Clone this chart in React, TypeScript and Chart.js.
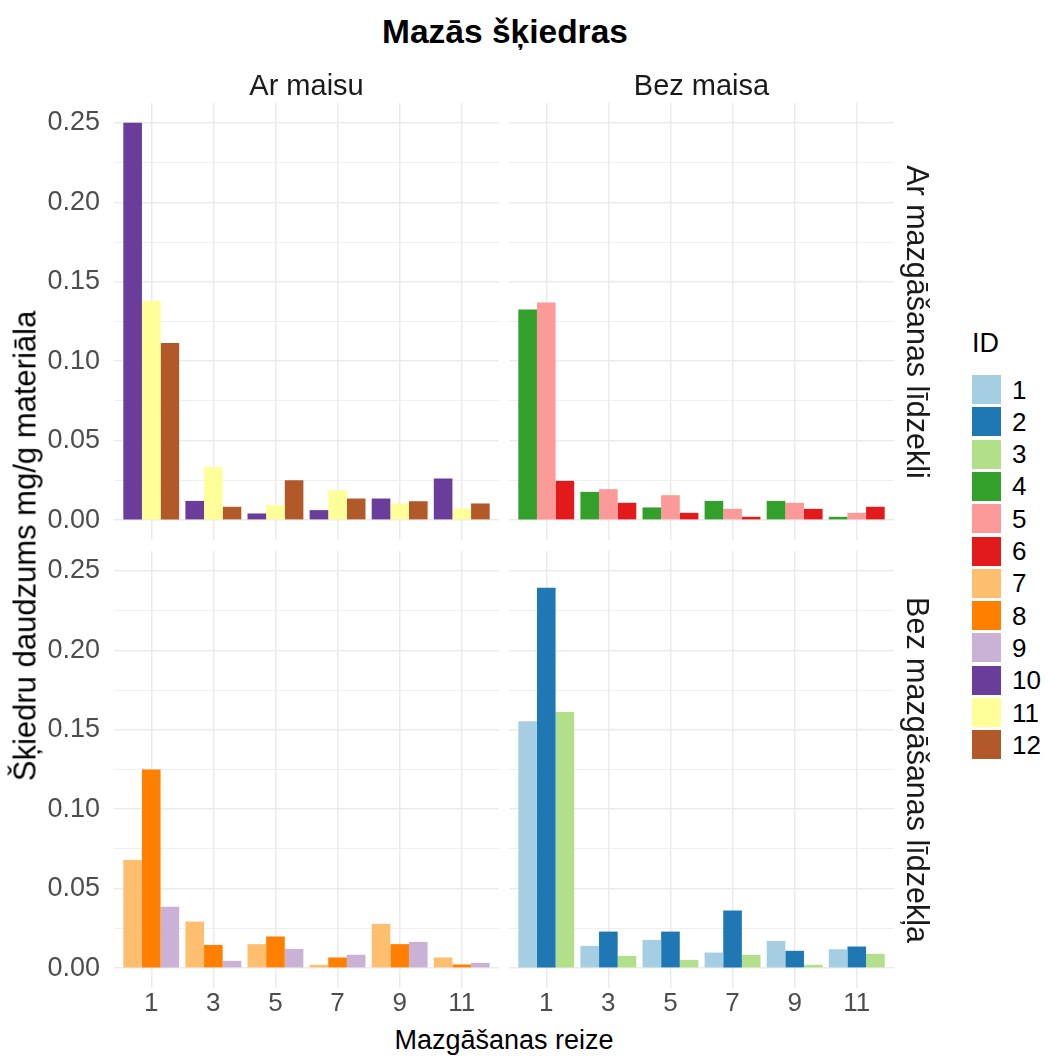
import React, { useEffect, useRef } from 'react';
import { Chart, registerables } from 'chart.js';

Chart.register(...registerables);

// ---------- data ----------
const CATEGORIES = ['1', '3', '5', '7', '9', '11'];
const Y_TICKS = [0, 0.025, 0.05, 0.075, 0.1, 0.125, 0.15, 0.175, 0.2, 0.225, 0.25];
const ID_LABELS = ['1', '2', '3', '4', '5', '6', '7', '8', '9', '10', '11', '12'];
const ID_COLORS = ['#A6CEE3', '#1F78B4', '#B2DF8A', '#33A02C', '#FB9A99', '#E31A1C', '#FDBF6F', '#FF7F00', '#CAB2D6', '#6A3D9A', '#FFFF99', '#B15928'];

const COL_LABELS = ['Ar maisu', 'Bez maisa'];
const ROW_LABELS = ['Ar mazgāšanas līdzekli', 'Bez mazgāšanas līdzekļa'];

// Ar maisu / Ar mazgāšanas līdzekli
const id10 = [0.25, 0.0121, 0.0042, 0.0063, 0.0136, 0.0262];
const id11 = [0.138, 0.0335, 0.0094, 0.0188, 0.0105, 0.0073];
const id12 = [0.1114, 0.0084, 0.0251, 0.0136, 0.0119, 0.0105];
// Bez maisa / Ar mazgāšanas līdzekli
const id4 = [0.1325, 0.0178, 0.008, 0.0121, 0.0121, 0.0021];
const id5 = [0.137, 0.0195, 0.0157, 0.0071, 0.0109, 0.0046];
const id6 = [0.0247, 0.0109, 0.0046, 0.0021, 0.0071, 0.0084];
// Ar maisu / Bez mazgāšanas līdzekļa
const id7 = [0.068, 0.0293, 0.0151, 0.0021, 0.0278, 0.0067];
const id8 = [0.125, 0.0146, 0.0199, 0.0067, 0.0151, 0.0023];
const id9 = [0.0387, 0.0046, 0.0121, 0.0084, 0.0165, 0.0033];
// Bez maisa / Bez mazgāšanas līdzekļa
const id1 = [0.1553, 0.014, 0.0178, 0.0098, 0.0171, 0.0119];
const id2 = [0.2393, 0.023, 0.023, 0.0362, 0.0109, 0.0136];
const id3 = [0.1612, 0.0077, 0.0052, 0.0084, 0.0021, 0.009];

const FONT = "'Liberation Sans', Arial, Helvetica, sans-serif";

type PanelProps = {
  areaLeft: number;
  areaTop: number;
  areaW: number;
  areaH: number;
  showY: boolean;
  showX: boolean;
  ids: number[];
  values: number[][];
};

function Panel(p: PanelProps) {
  const ref = useRef<HTMLCanvasElement>(null);
  const yAxisW = p.showY ? 75 : 0;
  const padL = p.showY ? 0 : 10;
  const padT = 34;
  const padR = 8;
  const xAxisH = p.showX ? 36 : 0;
  const padB = p.showX ? 0 : 34;
  const cw = padL + yAxisW + p.areaW + padR;
  const ch = padT + p.areaH + xAxisH + padB;
  const left = p.areaLeft - yAxisW - padL;
  const top = p.areaTop - padT;

  useEffect(() => {
    if (!ref.current) return;
    const chart = new Chart(ref.current, {
      type: 'bar',
      data: {
        datasets: p.ids.map((id, k) => ({
          label: ID_LABELS[id],
          data: p.values[k].map((v, i) => ({ x: i + 1, y: v })),
          backgroundColor: ID_COLORS[id],
          borderWidth: 0,
          barPercentage: 1,
          categoryPercentage: 0.9,
        })),
      },
      options: {
        animation: false,
        responsive: false,
        devicePixelRatio: 1,
        layout: { padding: { left: padL, top: padT, right: padR, bottom: padB } },
        plugins: { legend: { display: false }, tooltip: { enabled: false }, title: { display: false } },
        scales: {
          x: {
            type: 'linear',
            min: 0.4,
            max: 6.6,
            bounds: 'data',
            offset: false,
            grid: { offset: false, color: '#EBEBEB', lineWidth: 1.5, drawTicks: false },
            border: { display: false },
            afterBuildTicks: (axis: any) => {
              axis.ticks = CATEGORIES.map((_, i) => ({ value: i + 1 }));
            },
            afterFit: (axis: any) => {
              axis.height = xAxisH;
            },
            ticks: {
              display: p.showX,
              autoSkip: false,
              maxRotation: 0,
              padding: 0,
              color: '#4D4D4D',
              font: { family: FONT, size: 26 },
              callback: (v: any) => CATEGORIES[Math.round(Number(v)) - 1] ?? '',
            },
          },
          y: {
            type: 'linear',
            min: -0.0125,
            max: 0.2625,
            bounds: 'data',
            grid: {
              color: '#EBEBEB',
              lineWidth: (ctx: any) => (ctx.index % 2 === 0 ? 1.5 : 0.8),
              drawTicks: false,
            },
            border: { display: false },
            afterBuildTicks: (axis: any) => {
              axis.ticks = Y_TICKS.map((v) => ({ value: v }));
            },
            afterFit: (axis: any) => {
              axis.width = yAxisW;
            },
            ticks: {
              display: p.showY,
              autoSkip: false,
              padding: 14,
              color: '#4D4D4D',
              font: { family: FONT, size: 27 },
              callback: (v: any, i: number) => (i % 2 === 0 ? Number(v).toFixed(2) : ''),
            },
          },
        },
      } as any,
    });
    return () => chart.destroy();
  }, []);

  return (
    <canvas
      ref={ref}
      width={cw}
      height={ch}
      style={{ position: 'absolute', left, top, width: cw, height: ch }}
    />
  );
}

function Txt(props: { x: number; y: number; size: number; rot?: number; bold?: boolean; color?: string; children: React.ReactNode }) {
  return (
    <div
      style={{
        position: 'absolute',
        left: props.x,
        top: props.y,
        transform: `translate(-50%, -50%) rotate(${props.rot ?? 0}deg)`,
        fontFamily: FONT,
        fontSize: props.size,
        fontWeight: props.bold ? 'bold' : 'normal',
        color: props.color ?? '#000',
        whiteSpace: 'nowrap',
        lineHeight: 1,
      }}
    >
      {props.children}
    </div>
  );
}

export default function App() {
  const L1 = 114, L2 = 509, T1 = 103, T2 = 551, W = 385, H = 437;
  return (
    <div style={{ position: 'absolute', left: 0, top: 0, width: 1053, height: 1059, background: '#fff', overflow: 'hidden' }}>
      <Panel areaLeft={L1} areaTop={T1} areaW={W} areaH={H} showY showX={false} ids={[9, 10, 11]} values={[id10, id11, id12]} />
      <Panel areaLeft={L2} areaTop={T1} areaW={W} areaH={H} showY={false} showX={false} ids={[3, 4, 5]} values={[id4, id5, id6]} />
      <Panel areaLeft={L1} areaTop={T2} areaW={W} areaH={H} showY showX ids={[6, 7, 8]} values={[id7, id8, id9]} />
      <Panel areaLeft={L2} areaTop={T2} areaW={W} areaH={H} showY={false} showX ids={[0, 1, 2]} values={[id1, id2, id3]} />

      <Txt x={505} y={32} size={33.5} bold>Mazās šķiedras</Txt>
      <Txt x={L1 + W / 2} y={85} size={29} color="#1A1A1A">{COL_LABELS[0]}</Txt>
      <Txt x={L2 + W / 2} y={85} size={29} color="#1A1A1A">{COL_LABELS[1]}</Txt>
      <Txt x={918} y={T1 + H / 2} size={30.5} rot={90} color="#1A1A1A">{ROW_LABELS[0]}</Txt>
      <Txt x={918} y={T2 + H / 2} size={30.5} rot={90} color="#1A1A1A">{ROW_LABELS[1]}</Txt>
      <Txt x={25} y={(T1 + T2 + H) / 2} size={31} rot={-90}>Šķiedru daudzums mg/g materiāla</Txt>
      <Txt x={(L1 + L2 + W) / 2} y={1040} size={27}>Mazgāšanas reize</Txt>

      <div style={{ position: 'absolute', left: 972, top: 330, fontFamily: FONT, fontSize: 27, lineHeight: 1 }}>ID</div>
      {ID_LABELS.map((lab, i) => (
        <React.Fragment key={lab}>
          <div style={{ position: 'absolute', left: 972, top: 375 + i * 32.3, width: 29, height: 29, background: ID_COLORS[i] }} />
          <div style={{ position: 'absolute', left: 1012, top: 389.5 + i * 32.3, transform: 'translateY(-50%)', fontFamily: FONT, fontSize: 26, lineHeight: 1 }}>{lab}</div>
        </React.Fragment>
      ))}
    </div>
  );
}
